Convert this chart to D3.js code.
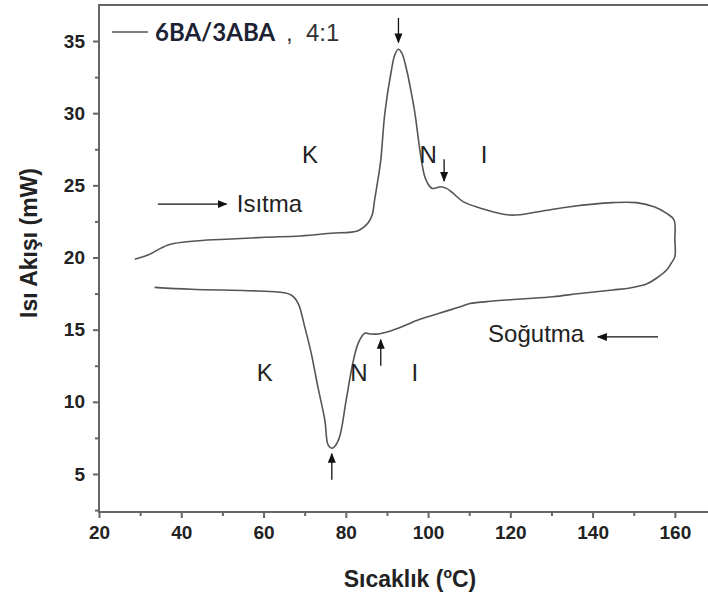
<!DOCTYPE html>
<html>
<head>
<meta charset="utf-8">
<script src="https://cdn.jsdelivr.net/npm/d3@7"></script>
<style>
  body { margin: 0; background: #fff; }
  text { font-family: "Liberation Sans", Arial, sans-serif; }
</style>
</head>
<body>
<div id="chart"></div>
<script>
const WIDTH = 708;
const HEIGHT = 601;

// heating run (Isıtma), temperature in °C and heat flow in mW
const heatT = [28.7, 31.9, 36.8, 44.1, 52.1, 60.3, 68.9, 76.4, 83.0, 85.4, 86.4, 87.0, 87.8, 88.5, 89.5, 91.1, 91.9, 92.75, 93.6, 94.8, 95.8, 96.8, 98.0, 98.8, 99.2, 100.0, 100.9, 101.9, 102.9, 104.5, 106.0, 108.5, 112.6, 119.9, 127.2, 134.5, 144.9, 150.7, 155.1, 158.0, 159.8, 160.0, 160.0];
const heatQ = [19.88, 20.17, 20.87, 21.16, 21.28, 21.40, 21.49, 21.68, 21.86, 22.39, 22.94, 23.98, 25.37, 26.75, 30.01, 32.99, 34.03, 34.43, 34.17, 32.99, 31.6, 30.01, 27.45, 26.06, 25.6, 25.09, 24.79, 24.82, 24.9, 24.79, 24.47, 23.87, 23.43, 22.94, 23.19, 23.52, 23.80, 23.80, 23.50, 23.06, 22.60, 21.21, 20.06];

// cooling run (Soğutma)
const coolT = [159.0, 158.0, 155.6, 153.1, 149.1, 144.9, 136.9, 130.4, 122.3, 114.2, 110.2, 107.8, 102.9, 98.0, 92.7, 91.05, 87.8, 85.9, 84.6, 83.0, 81.7, 80.1, 78.5, 77.4, 76.6, 75.7, 74.9, 73.2, 71.6, 70.0, 68.4, 66.7, 63.5, 56.2, 42.4, 33.5];
const coolQ = [19.55, 19.13, 18.58, 18.16, 17.89, 17.75, 17.51, 17.28, 17.12, 16.94, 16.81, 16.59, 16.15, 15.72, 15.09, 14.93, 14.70, 14.70, 14.75, 14.05, 12.67, 10.13, 7.58, 6.94, 6.78, 7.01, 8.74, 11.05, 13.36, 15.21, 16.83, 17.40, 17.61, 17.70, 17.80, 17.93];

const xTicks = [20, 40, 60, 80, 100, 120, 140, 160];
const yTicks = [5, 10, 15, 20, 25, 30, 35];

const svg = d3.select("#chart").append("svg")
    .attr("width", WIDTH)
    .attr("height", HEIGHT);

const x = d3.scaleLinear().domain([20, 170]).range([99, 716]);
const y = d3.scaleLinear().domain([5, 35]).range([474, 41]);
const yBottom = 512, yTop = 5;

const axisColor = "#666";

// frame
svg.append("rect")
    .attr("x", x(20)).attr("y", yTop)
    .attr("width", x(170) - x(20)).attr("height", yBottom - yTop)
    .attr("fill", "none").attr("stroke", axisColor).attr("stroke-width", 2);

// x axis
svg.append("g")
    .attr("transform", `translate(0,${yBottom})`)
    .call(d3.axisBottom(x).tickValues(xTicks).tickSize(6).tickPadding(8));
svg.append("g")
    .attr("transform", `translate(0,${yBottom})`)
    .call(d3.axisBottom(x).tickValues(d3.range(30, 170, 20)).tickSize(4).tickFormat(""));

// y axis
svg.append("g")
    .attr("transform", `translate(${x(20)},0)`)
    .call(d3.axisLeft(y).tickValues(yTicks).tickSize(6).tickPadding(8));
svg.append("g")
    .attr("transform", `translate(${x(20)},0)`)
    .call(d3.axisLeft(y).tickValues([2.5, 7.5, 12.5, 17.5, 22.5, 27.5, 32.5]).tickSize(4).tickFormat(""));

svg.selectAll(".domain").remove();
svg.selectAll(".tick line").attr("stroke", axisColor).attr("stroke-width", 2);
svg.selectAll(".tick text")
    .attr("font-size", 19).attr("font-weight", "bold").attr("fill", "#222")
    .style("font-family", "'Liberation Sans', Arial, sans-serif");

// axis titles
const xt = svg.append("text")
    .attr("x", 410).attr("y", 587)
    .attr("text-anchor", "middle")
    .attr("font-size", 23).attr("font-weight", "bold").attr("fill", "#222");
xt.append("tspan").text("Sıcaklık (");
xt.append("tspan").attr("font-size", 14).attr("dy", -9).text("o");
xt.append("tspan").attr("dy", 9).text("C)");

svg.append("text")
    .attr("transform", `translate(37,243) rotate(-90)`)
    .attr("text-anchor", "middle")
    .attr("font-size", 23).attr("font-weight", "bold").attr("fill", "#222")
    .text("Isı Akışı (mW)");

// curve
const pts = heatT.map((t, i) => [t, heatQ[i]])
    .concat(coolT.map((t, i) => [t, coolQ[i]]));
const line = d3.line()
    .x(d => x(d[0]))
    .y(d => y(d[1]))
    .curve(d3.curveCatmullRom.alpha(0.5));
svg.append("path")
    .datum(pts)
    .attr("d", line)
    .attr("fill", "none")
    .attr("stroke", "#555")
    .attr("stroke-width", 1.6);

// arrow marker
svg.append("defs").append("marker")
    .attr("id", "head")
    .attr("viewBox", "0 0 10 10")
    .attr("refX", 9).attr("refY", 5)
    .attr("markerWidth", 10).attr("markerHeight", 10)
    .attr("markerUnits", "userSpaceOnUse")
    .attr("orient", "auto")
  .append("path")
    .attr("d", "M0,1 L10,5 L0,9 Z")
    .attr("fill", "#111");

const arrows = [
    [[92.8, 36.6], [92.8, 34.9]],
    [[103.9, 26.8], [103.9, 25.3]],
    [[76.6, 4.6], [76.6, 6.4]],
    [[88.5, 12.5], [88.5, 14.3]],
    [[34.3, 23.7], [51.0, 23.7]],
    [[155.9, 14.5], [141.3, 14.5]]
];
svg.selectAll(".arrow")
    .data(arrows)
    .join("line")
    .attr("class", "arrow")
    .attr("x1", d => x(d[0][0])).attr("y1", d => y(d[0][1]))
    .attr("x2", d => x(d[1][0])).attr("y2", d => y(d[1][1]))
    .attr("stroke", "#111").attr("stroke-width", 1.3)
    .attr("marker-end", "url(#head)");

// phase labels
const labels = [
    ["K", 71.3, 27.1, "middle"], ["N", 100.0, 27.1, "middle"], ["I", 113.6, 27.1, "middle"],
    ["K", 60.3, 12.0, "middle"], ["N", 83.2, 12.0, "middle"], ["I", 96.8, 12.0, "middle"],
    ["Isıtma", 53.5, 23.7, "start"], ["Soğutma", 114.6, 14.7, "start"]
];
svg.selectAll(".lbl")
    .data(labels)
    .join("text")
    .attr("class", "lbl")
    .attr("x", d => x(d[1])).attr("y", d => y(d[2]))
    .attr("dy", "0.35em")
    .attr("text-anchor", d => d[3])
    .attr("font-size", 24).attr("fill", "#222")
    .text(d => d[0]);

// legend
svg.append("line")
    .attr("x1", 112).attr("x2", 148).attr("y1", 32).attr("y2", 32)
    .attr("stroke", "#555").attr("stroke-width", 1.6);
svg.append("text")
    .attr("x", 155).attr("y", 41)
    .attr("font-size", 24).attr("font-weight", "bold").attr("fill", "#1c2233")
    .style("font-family", "Lato, sans-serif")
    .text("6BA/3ABA");
svg.append("text")
    .attr("x", 286).attr("y", 41)
    .attr("font-size", 24).attr("fill", "#333")
    .text(",");
svg.append("text")
    .attr("x", 306).attr("y", 41)
    .attr("font-size", 24).attr("fill", "#333")
    .text("4:1");
</script>
</body>
</html>
